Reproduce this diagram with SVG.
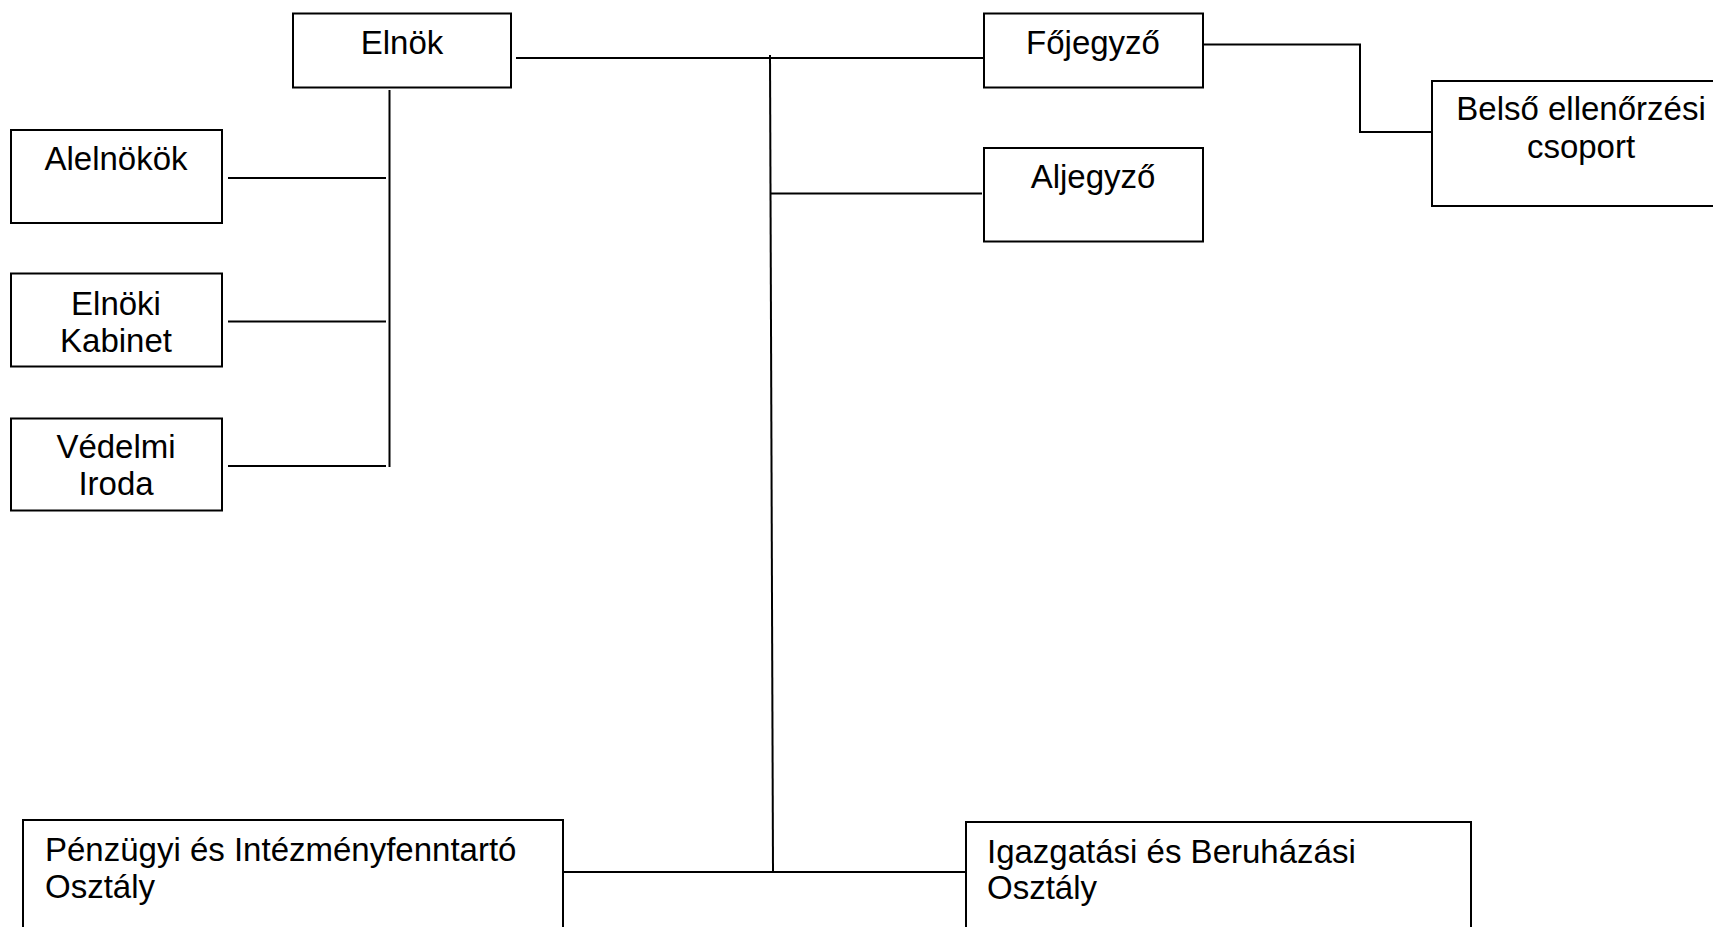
<svg xmlns="http://www.w3.org/2000/svg" width="1713" height="927" viewBox="0 0 1713 927">
<style>
.box{fill:#fff;stroke:#000;stroke-width:2}
.ln{stroke:#000;stroke-width:2;fill:none}
text{font-family:"Liberation Sans",Arial,sans-serif;font-size:33px;fill:#000}
.c{text-anchor:middle}
</style>
<rect width="1713" height="927" fill="#fff"/>
<g id="connectors">
<line class="ln" x1="516" y1="58" x2="983" y2="58"/>
<line class="ln" x1="770" y1="55" x2="773" y2="872"/>
<line class="ln" x1="770" y1="193.5" x2="982" y2="193.5"/>
<line class="ln" x1="561" y1="872" x2="968" y2="872"/>
<line class="ln" x1="389.5" y1="90" x2="389.5" y2="467"/>
<line class="ln" x1="228" y1="178" x2="386" y2="178"/>
<line class="ln" x1="228" y1="321.5" x2="386" y2="321.5"/>
<line class="ln" x1="228" y1="466" x2="386" y2="466"/>
<polyline class="ln" points="1204,44.5 1360,44.5 1360,132 1432,132"/>
</g>
<g id="elnok"><rect class="box" x="293" y="13.5" width="218" height="74"/><text class="c" x="402" y="54">Elnök</text></g>
<g id="fojegyzo"><rect class="box" x="984" y="13.5" width="219" height="74"/><text class="c" x="1093" y="54">Főjegyző</text></g>
<g id="aljegyzo"><rect class="box" x="984" y="148" width="219" height="93.5"/><text class="c" x="1093" y="188">Aljegyző</text></g>
<g id="belso"><rect class="box" x="1432" y="81" width="300" height="125"/><text class="c" x="1581" y="120">Belső ellenőrzési</text><text class="c" x="1581" y="158">csoport</text></g>
<g id="alelnokok"><rect class="box" x="11" y="130" width="211" height="93"/><text class="c" x="116" y="170">Alelnökök</text></g>
<g id="elnoki-kabinet"><rect class="box" x="11" y="273.5" width="211" height="93"/><text class="c" x="116" y="315">Elnöki</text><text class="c" x="116" y="352">Kabinet</text></g>
<g id="vedelmi-iroda"><rect class="box" x="11" y="418.5" width="211" height="92"/><text class="c" x="116" y="458">Védelmi</text><text class="c" x="116" y="495">Iroda</text></g>
<g id="penzugyi"><rect class="box" x="23" y="820" width="540" height="130"/><text x="45" y="861">Pénzügyi és Intézményfenntartó</text><text x="45" y="898">Osztály</text></g>
<g id="igazgatasi"><rect class="box" x="966" y="822" width="505" height="130"/><text x="987" y="863">Igazgatási és Beruházási</text><text x="987" y="899">Osztály</text></g>
</svg>
